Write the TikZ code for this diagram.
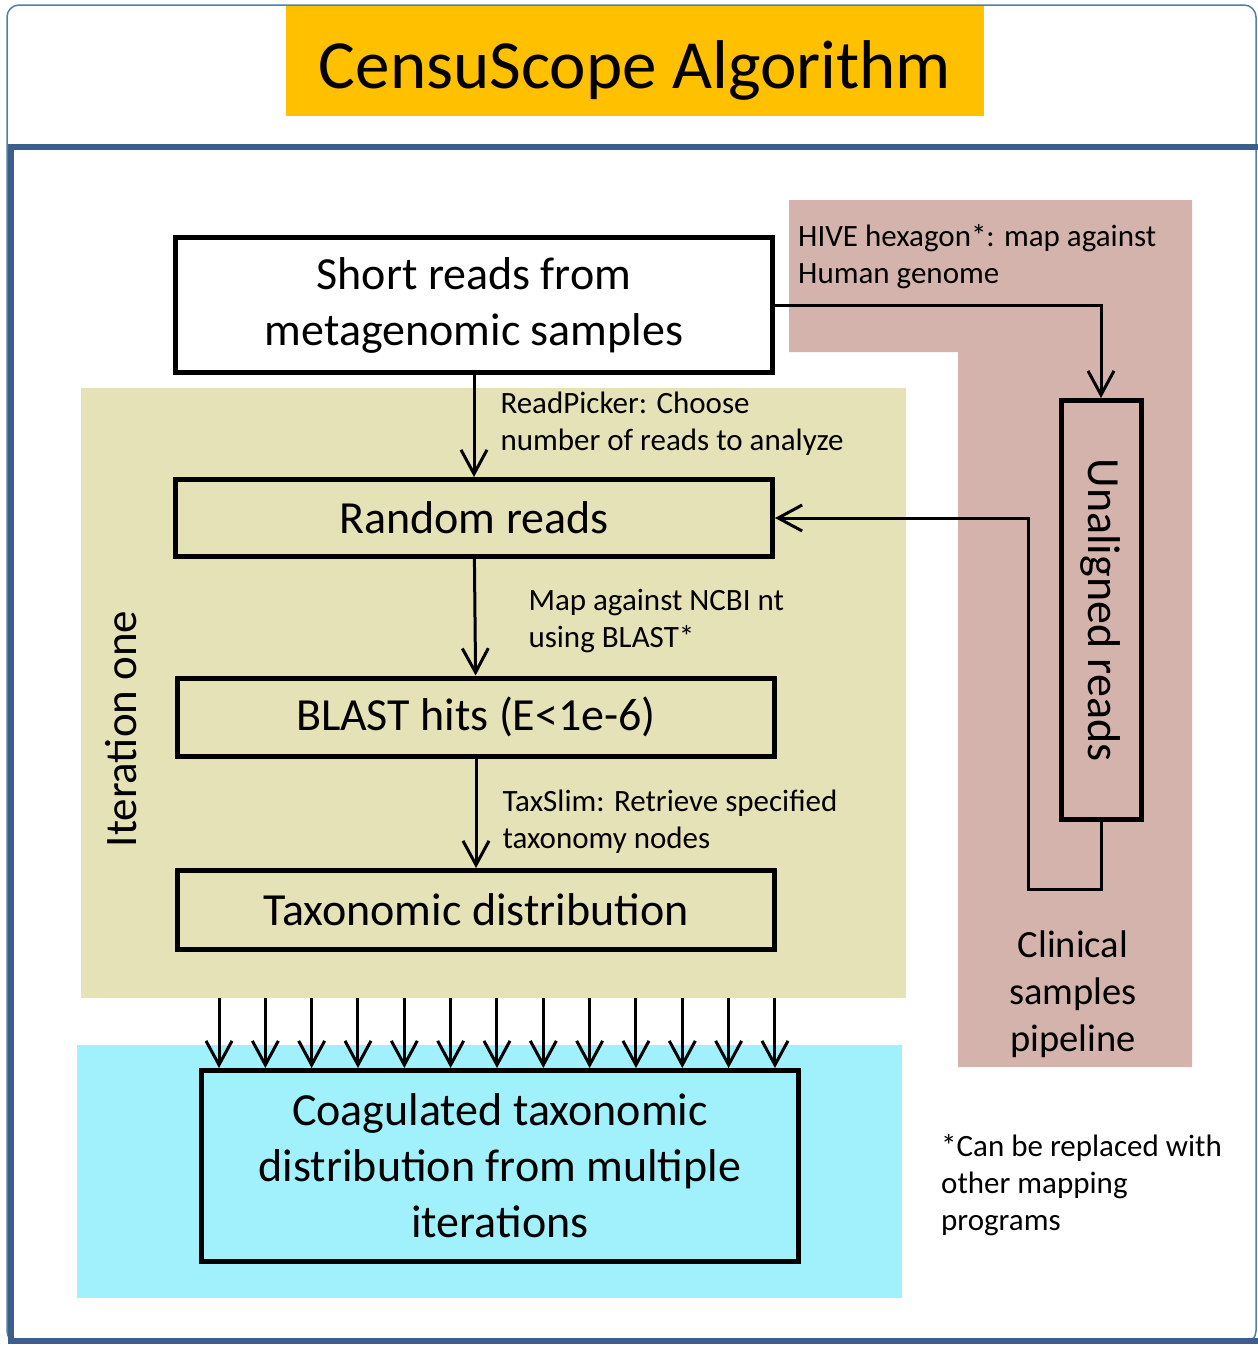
\documentclass[tikz,border=0pt]{standalone}
\usepackage{fontspec}
\setmainfont{Carlito}
\usepackage{xcolor}
\usetikzlibrary{positioning,arrows.meta}

\definecolor{titlegold}{HTML}{FFC000}
\definecolor{hivepink}{HTML}{D5B3AD}
\definecolor{iterbeige}{HTML}{E6E2B8}
\definecolor{coagcyan}{HTML}{A0F1FC}
\definecolor{framedark}{HTML}{3B5E8C}
\definecolor{framethin}{HTML}{4F81A0}

\begin{document}
\begin{tikzpicture}[x=1pt, y=1pt,
    box/.style={draw, line width=5pt, minimum width=597pt, inner sep=0pt, align=center,
                font=\fontsize{46}{56}\selectfont},
    lbl/.style={align=left, inner sep=0pt, font=\fontsize{31}{37}\selectfont, anchor=west},
    flow/.style={line width=3pt, -{Straight Barb[length=24pt,width=26pt]}}]

            \useasboundingbox (0,0) rectangle (1258,-1345);

            % frame
            \draw[framethin, line width=1.5pt, rounded corners=12pt] (7,-5) rectangle (1256,-1343);
            \draw[framedark, line width=6pt] (1258,-147) -- (11,-147) -- (11,-1341) -- (1258,-1341);

            % shaded regions
            \fill[hivepink] (789,-200) -- (1192,-200) -- (1192,-1067) -- (958,-1067)
                            -- (958,-352) -- (789,-352) -- cycle;
            \fill[iterbeige] (81,-388) rectangle (906,-998);
            \fill[coagcyan] (77,-1045) rectangle (902,-1298);

            \node[fill=titlegold, minimum width=698pt, minimum height=110pt,
                  text height=54pt, text depth=0pt,
                  font=\fontsize{69}{80}\selectfont] (title) at (635,-61) {CensuScope Algorithm};

            \node[box, fill=white, minimum height=135pt] (short) at (474,-305)
                {Short reads from\\metagenomic samples};
            \node[box, fill=iterbeige, minimum height=77pt] (random) at (474,-518) {Random reads};
            \node[box, fill=iterbeige, minimum height=78pt] (blast) at (476,-717) {BLAST hits (E<1e-6)};
            \node[box, fill=iterbeige, minimum height=79pt] (taxdist) at (476,-910) {Taxonomic distribution};
            \node[box, fill=coagcyan, minimum height=191pt] (coag) at (500,-1166)
                {Coagulated taxonomic\\distribution from multiple\\iterations};
            \node[draw, line width=5pt, inner sep=0pt, minimum width=80pt, minimum height=419pt,
                  fill=hivepink] (unaligned) at (1101,-610)
                {\rotatebox{-90}{\fontsize{46}{52}\selectfont Unaligned reads}};

            \node[lbl] (hive) at (798,-257) {HIVE hexagon*: map against\\Human genome};
            \node[align=center, font=\fontsize{38.5}{47}\selectfont] (clinical) at (1073,-994)
                {Clinical\\samples\\pipeline};
            \node[rotate=90, font=\fontsize{45}{50}\selectfont] (iter) at (121,-729) {Iteration one};
            \node[lbl] (note) at (941,-1185) {*Can be replaced with\\other mapping\\programs};

            \path[flow]
                (short) edge node[lbl, xshift=25pt, yshift=2pt] {ReadPicker: Choose\\number of reads to analyze} (random)
                (random) edge node[lbl, xshift=52pt, yshift=-4pt] {Map against NCBI nt\\using BLAST*} (blast)
                (blast) edge node[lbl, xshift=25pt, yshift=-8pt] {TaxSlim: Retrieve specified\\taxonomy nodes} (taxdist);

            \draw[flow] (short.east) -| (unaligned.north);
            \coordinate (turn) at (1028,-889);
            \draw[flow] (unaligned.south) |- (turn) |- (random.east);

            \foreach \i in {0,...,12} {
                \coordinate (top\i) at ({219+46.33*\i},-998);
                \draw[flow] (top\i) -- (top\i |- coag.north);
            }

        \end{tikzpicture}
\end{document}
